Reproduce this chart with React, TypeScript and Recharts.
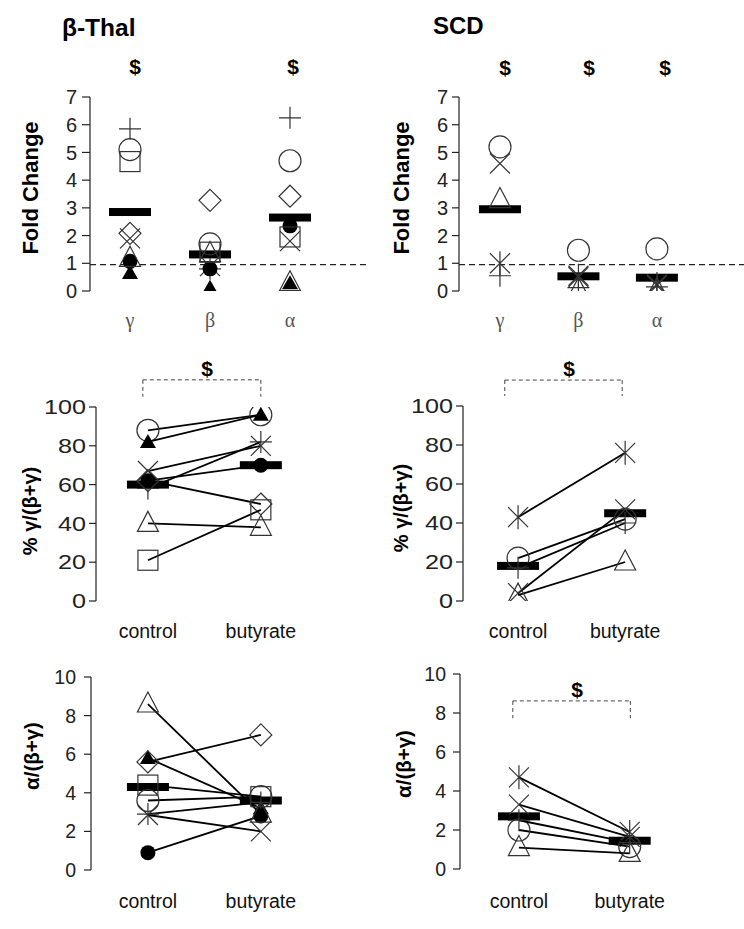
import React from 'react';
import { ScatterChart, Scatter, XAxis, YAxis, ReferenceLine } from 'recharts';

const SANS = "'Liberation Sans', Arial, Helvetica, sans-serif";
const SERIF = "'Liberation Serif', 'Times New Roman', serif";

// ---------- categories & ticks
const FOLD_CATEGORIES = ['γ', 'β', 'α'];
const PAIR_CATEGORIES = ['control', 'butyrate'];
const FOLD_TICKS = [0, 1, 2, 3, 4, 5, 6, 7];
const PCT_TICKS = [0, 20, 40, 60, 80, 100];
const RATIO_TICKS = [0, 2, 4, 6, 8, 10];
const FOLD_BASELINE = 0.95;

// ---------- β-Thal patients (symbol per patient)
const THAL_SYMBOLS = ['circle', 'filledTriangle', 'x', 'plus', 'filledCircle', 'diamond', 'triangle', 'square'];
const THAL_FOLD_GAMMA = [5.1, 0.65, 1.9, 5.85, 1.07, 2.08, 1.18, 4.67];
const THAL_FOLD_BETA = [1.7, 0.12, 0.9, 0.8, 0.8, 3.27, 1.35, 1.4];
const THAL_FOLD_ALPHA = [4.7, 0.28, 1.8, 6.25, 2.35, 3.42, 0.3, 1.95];
const THAL_FOLD_MEAN = [2.85, 1.32, 2.65];
const THAL_PCT_CONTROL = [88, 82, 67, 58, 62, 62, 40, 21];
const THAL_PCT_BUTYRATE = [96, 96, 80, 82, 70, 50, 38, 47];
const THAL_PCT_MEAN = [60, 70];
const THAL_RATIO_CONTROL = [3.6, 5.8, 2.85, 2.9, 0.9, 5.6, 8.6, 4.4];
const THAL_RATIO_BUTYRATE = [3.8, 3.2, 2.0, 3.5, 2.8, 7.0, 2.9, 3.8];
const THAL_RATIO_MEAN = [4.3, 3.6];

// ---------- SCD patients
const SCD_SYMBOLS = ['asterisk', 'x', 'circle', 'triangle', 'plus'];
const SCD_FOLD_GAMMA = [1.0, 4.6, 5.2, 3.3, 0.55];
const SCD_FOLD_BETA = [0.55, 0.5, 1.47, 0.05, 0.12];
const SCD_FOLD_ALPHA = [0.25, 0.2, 1.52, 0.05, 0.15];
const SCD_FOLD_MEAN = [2.95, 0.53, 0.48];
const SCD_PCT_CONTROL = [43, 4, 22, 3, 17];
const SCD_PCT_BUTYRATE = [76, 47, 42, 20, 40];
const SCD_PCT_MEAN = [18, 45];
const SCD_RATIO_CONTROL = [4.7, 3.3, 2.0, 1.1, 2.5];
const SCD_RATIO_BUTYRATE = [1.9, 1.65, 1.15, 0.8, 1.35];
const SCD_RATIO_MEAN = [2.7, 1.45];

// ---------- significance brackets (data coords: x from/to, y top/bottom)
const THAL_PCT_BRACKET = { x1: 0.955, x2: 2.0, yTop: 114, yBottom: 105.3 };
const SCD_PCT_BRACKET = { x1: 0.876, x2: 1.972, yTop: 113.3, yBottom: 105.1 };
const SCD_RATIO_BRACKET = { x1: 0.945, x2: 2.006, yTop: 8.62, yBottom: 7.73 };

type Pt = { x: number; y: number };
type Series = { kind: string; points: Pt[] };

const foldSeries = (symbols: string[], g: number[], b: number[], a: number[]): Series[] =>
  symbols.map((kind, i) => ({ kind, points: [{ x: 1, y: g[i] }, { x: 2, y: b[i] }, { x: 3, y: a[i] }] }));
const pairSeries = (symbols: string[], c: number[], t: number[]): Series[] =>
  symbols.map((kind, i) => ({ kind, points: [{ x: 1, y: c[i] }, { x: 2, y: t[i] }] }));
const meanPoints = (m: number[]): Pt[] => m.map((y, i) => ({ x: i + 1, y }));

const MK = '#333';
function Marker({ kind, cx, cy }: { kind: string; cx?: number; cy?: number }) {
  if (cx == null || cy == null || isNaN(cx) || isNaN(cy)) return <g />;
  const sw = 1.2;
  switch (kind) {
    case 'circle':
      return <circle cx={cx} cy={cy} r={11} fill="none" stroke={MK} strokeWidth={sw} />;
    case 'square':
      return <rect x={cx - 10} y={cy - 10} width={20} height={20} fill="none" stroke={MK} strokeWidth={sw} />;
    case 'diamond':
      return (
        <polygon
          points={`${cx},${cy - 11} ${cx + 11},${cy} ${cx},${cy + 11} ${cx - 11},${cy}`}
          fill="none"
          stroke={MK}
          strokeWidth={sw}
        />
      );
    case 'triangle':
      return (
        <polygon
          points={`${cx},${cy - 12} ${cx + 10.5},${cy + 8} ${cx - 10.5},${cy + 8}`}
          fill="none"
          stroke={MK}
          strokeWidth={sw}
        />
      );
    case 'filledTriangle':
      return <polygon points={`${cx},${cy - 8} ${cx + 8},${cy + 6} ${cx - 8},${cy + 6}`} fill="#000" />;
    case 'filledCircle':
      return <circle cx={cx} cy={cy} r={7.5} fill="#000" />;
    case 'plus':
      return (
        <path d={`M${cx - 11},${cy} H${cx + 11} M${cx},${cy - 11} V${cy + 11}`} stroke={MK} strokeWidth={sw} fill="none" />
      );
    case 'x':
      return (
        <path
          d={`M${cx - 10},${cy - 10} L${cx + 10},${cy + 10} M${cx + 10},${cy - 10} L${cx - 10},${cy + 10}`}
          stroke={MK}
          strokeWidth={sw}
          fill="none"
        />
      );
    case 'asterisk':
      return (
        <path
          d={`M${cx - 10},${cy - 10} L${cx + 10},${cy + 10} M${cx + 10},${cy - 10} L${cx - 10},${cy + 10} M${cx},${cy - 12} V${cy + 12}`}
          stroke={MK}
          strokeWidth={sw}
          fill="none"
        />
      );
    case 'mean':
      return <rect x={cx - 21} y={cy - 4} width={42} height={8} fill="#000" />;
    default:
      return <g />;
  }
}

type PanelProps = {
  left: number;
  top: number;
  width: number;
  height: number;
  margin: { top: number; right: number; bottom: number; left: number };
  yAxisWidth: number;
  xAxisHeight: number;
  xDomain: [number, number];
  yDomain: [number, number];
  yTicks: number[];
  categories: string[];
  greek?: boolean;
  labelY: number;
  tickFont: number;
  digitWidth?: number;
  tickSize: number;
  tickMargin: number;
  series: Series[];
  means: Pt[];
  paired: boolean;
  refY?: number;
  bracket?: { x1: number; x2: number; yTop: number; yBottom: number };
};

function Panel(p: PanelProps) {
  const catTick = (t: any) => (
    <text
      x={t.x}
      y={p.labelY}
      textAnchor="middle"
      fontFamily={p.greek ? SERIF : SANS}
      fontSize={p.greek ? 20 : 19.5}
      fill={p.greek ? '#555' : '#111'}
    >
      {p.categories[Math.round(t.payload.value) - 1]}
    </text>
  );
  const yTick = (t: any) => {
    const s = String(t.payload.value);
    const extra = p.digitWidth ? { textLength: s.length * p.digitWidth, lengthAdjust: 'spacingAndGlyphs' } : {};
    return (
      <text
        x={t.x}
        y={t.y}
        dy="0.355em"
        textAnchor="end"
        fontFamily={SANS}
        fontSize={p.tickFont}
        fill="#222"
        {...(extra as any)}
      >
        {s}
      </text>
    );
  };
  const dash = { stroke: '#444', strokeWidth: 1, strokeDasharray: '4 3' };
  return (
    <div style={{ position: 'absolute', left: p.left, top: p.top }}>
      <ScatterChart width={p.width} height={p.height} margin={p.margin}>
        <XAxis
          type="number"
          dataKey="x"
          domain={p.xDomain}
          ticks={p.categories.map((_, i) => i + 1)}
          interval={0}
          allowDataOverflow
          axisLine={false}
          tickLine={false}
          height={p.xAxisHeight}
          tick={catTick}
        />
        <YAxis
          type="number"
          dataKey="y"
          domain={p.yDomain}
          ticks={p.yTicks}
          interval={0}
          allowDataOverflow
          width={p.yAxisWidth}
          axisLine={{ stroke: '#222', strokeWidth: 1.2 }}
          tickLine={{ stroke: '#222', strokeWidth: 1.2 }}
          tickSize={p.tickSize}
          tickMargin={p.tickMargin}
          tick={yTick}
        />
        {p.refY != null && (
          <ReferenceLine y={p.refY} stroke="#222" strokeWidth={1.2} strokeDasharray="6 4" ifOverflow="visible" />
        )}
        {p.bracket && (
          <ReferenceLine
            segment={[
              { x: p.bracket.x1, y: p.bracket.yTop },
              { x: p.bracket.x2, y: p.bracket.yTop },
            ]}
            ifOverflow="visible"
            {...dash}
          />
        )}
        {p.bracket && (
          <ReferenceLine
            segment={[
              { x: p.bracket.x1, y: p.bracket.yTop },
              { x: p.bracket.x1, y: p.bracket.yBottom },
            ]}
            ifOverflow="visible"
            {...dash}
          />
        )}
        {p.bracket && (
          <ReferenceLine
            segment={[
              { x: p.bracket.x2, y: p.bracket.yTop },
              { x: p.bracket.x2, y: p.bracket.yBottom },
            ]}
            ifOverflow="visible"
            {...dash}
          />
        )}
        <Scatter
          data={p.means}
          dataKey="y"
          isAnimationActive={false}
          shape={(s: any) => <Marker kind="mean" cx={s.cx} cy={s.cy} />}
        />
        {p.series.map((s, i) => (
          <Scatter
            key={i}
            data={s.points}
            dataKey="y"
            isAnimationActive={false}
            line={p.paired ? { stroke: '#000', strokeWidth: 1.8 } : false}
            shape={(q: any) => <Marker kind={s.kind} cx={q.cx} cy={q.cy} />}
          />
        ))}
      </ScatterChart>
    </div>
  );
}

type Txt = { text: string; x: number; y: number; size: number; rotate?: boolean; anchor?: string };
const OVERLAY_TEXT: Txt[] = [
  { text: 'β-Thal', x: 62, y: 36, size: 24.5, anchor: 'start' },
  { text: 'SCD', x: 433, y: 34, size: 24, anchor: 'start' },
  { text: '$', x: 135, y: 74, size: 21 },
  { text: '$', x: 293, y: 74, size: 21 },
  { text: '$', x: 505, y: 75, size: 21 },
  { text: '$', x: 589, y: 75, size: 21 },
  { text: '$', x: 665, y: 75, size: 21 },
  { text: '$', x: 207, y: 376, size: 21 },
  { text: '$', x: 569, y: 376, size: 21 },
  { text: '$', x: 577, y: 697, size: 21 },
  { text: 'Fold Change', x: 30, y: 188, size: 22, rotate: true },
  { text: 'Fold Change', x: 401, y: 188, size: 22, rotate: true },
  { text: '% γ/(β+γ)', x: 30, y: 511, size: 20, rotate: true },
  { text: '% γ/(β+γ)', x: 401, y: 508, size: 20, rotate: true },
  { text: 'α/(β+γ)', x: 31, y: 756, size: 20.5, rotate: true },
  { text: 'α/(β+γ)', x: 403, y: 764, size: 20.5, rotate: true },
];

export default function App() {
  return (
    <div style={{ position: 'absolute', left: 0, top: 0, width: 744, height: 929, background: '#fff', overflow: 'hidden' }}>
      <Panel
        left={0}
        top={0}
        width={372}
        height={340}
        margin={{ top: 97, right: 2, bottom: 0, left: 50 }}
        yAxisWidth={40}
        xAxisHeight={49}
        xDomain={[0.5, 4.0]}
        yDomain={[0, 7]}
        yTicks={FOLD_TICKS}
        categories={FOLD_CATEGORIES}
        greek
        labelY={327}
        tickFont={20}
        tickSize={8}
        tickMargin={5}
        series={foldSeries(THAL_SYMBOLS, THAL_FOLD_GAMMA, THAL_FOLD_BETA, THAL_FOLD_ALPHA)}
        means={meanPoints(THAL_FOLD_MEAN)}
        paired={false}
        refY={FOLD_BASELINE}
      />
      <Panel
        left={372}
        top={0}
        width={372}
        height={340}
        margin={{ top: 97, right: 0, bottom: 0, left: 47 }}
        yAxisWidth={40}
        xAxisHeight={49}
        xDomain={[0.478, 4.11]}
        yDomain={[0, 7]}
        yTicks={FOLD_TICKS}
        categories={FOLD_CATEGORIES}
        greek
        labelY={327}
        tickFont={20}
        tickSize={7}
        tickMargin={4}
        series={foldSeries(SCD_SYMBOLS, SCD_FOLD_GAMMA, SCD_FOLD_BETA, SCD_FOLD_ALPHA)}
        means={meanPoints(SCD_FOLD_MEAN)}
        paired={false}
        refY={FOLD_BASELINE}
      />
      <Panel
        left={0}
        top={330}
        width={372}
        height={320}
        margin={{ top: 77, right: 66, bottom: 0, left: 51 }}
        yAxisWidth={45}
        xAxisHeight={49}
        xDomain={[0.54, 2.4]}
        yDomain={[0, 100]}
        yTicks={PCT_TICKS}
        categories={PAIR_CATEGORIES}
        labelY={308}
        tickFont={20.5}
        digitWidth={14}
        tickSize={7}
        tickMargin={3}
        series={pairSeries(THAL_SYMBOLS, THAL_PCT_CONTROL, THAL_PCT_BUTYRATE)}
        means={meanPoints(THAL_PCT_MEAN)}
        paired
        bracket={THAL_PCT_BRACKET}
      />
      <Panel
        left={372}
        top={330}
        width={372}
        height={320}
        margin={{ top: 76, right: 76, bottom: 0, left: 46 }}
        yAxisWidth={45}
        xAxisHeight={49}
        xDomain={[0.486, 2.4]}
        yDomain={[0, 100]}
        yTicks={PCT_TICKS}
        categories={PAIR_CATEGORIES}
        labelY={308}
        tickFont={20.5}
        digitWidth={14}
        tickSize={7}
        tickMargin={3}
        series={pairSeries(SCD_SYMBOLS, SCD_PCT_CONTROL, SCD_PCT_BUTYRATE)}
        means={meanPoints(SCD_PCT_MEAN)}
        paired
        bracket={SCD_PCT_BRACKET}
      />
      <Panel
        left={0}
        top={640}
        width={372}
        height={289}
        margin={{ top: 37, right: 66, bottom: 0, left: 46 }}
        yAxisWidth={45}
        xAxisHeight={59}
        xDomain={[0.496, 2.4]}
        yDomain={[0, 10]}
        yTicks={RATIO_TICKS}
        categories={PAIR_CATEGORIES}
        labelY={268}
        tickFont={19.5}
        tickSize={7}
        tickMargin={8}
        series={pairSeries(THAL_SYMBOLS, THAL_RATIO_CONTROL, THAL_RATIO_BUTYRATE)}
        means={meanPoints(THAL_RATIO_MEAN)}
        paired
      />
      <Panel
        left={372}
        top={640}
        width={372}
        height={289}
        margin={{ top: 34, right: 70, bottom: 0, left: 43 }}
        yAxisWidth={45}
        xAxisHeight={60}
        xDomain={[0.468, 2.4]}
        yDomain={[0, 10]}
        yTicks={RATIO_TICKS}
        categories={PAIR_CATEGORIES}
        labelY={268}
        tickFont={19.5}
        tickSize={7}
        tickMargin={7}
        series={pairSeries(SCD_SYMBOLS, SCD_RATIO_CONTROL, SCD_RATIO_BUTYRATE)}
        means={meanPoints(SCD_RATIO_MEAN)}
        paired
        bracket={SCD_RATIO_BRACKET}
      />
      <svg width={744} height={929} style={{ position: 'absolute', left: 0, top: 0, pointerEvents: 'none' }}>
        {OVERLAY_TEXT.map((t, i) =>
          t.rotate ? (
            <text
              key={i}
              x={t.x}
              y={t.y}
              transform={`rotate(-90 ${t.x} ${t.y})`}
              textAnchor="middle"
              dominantBaseline="central"
              fontFamily={SANS}
              fontWeight="bold"
              fontSize={t.size}
              fill="#000"
            >
              {t.text}
            </text>
          ) : (
            <text
              key={i}
              x={t.x}
              y={t.y}
              textAnchor={t.anchor || 'middle'}
              fontFamily={SANS}
              fontWeight="bold"
              fontSize={t.size}
              fill="#000"
            >
              {t.text}
            </text>
          )
        )}
      </svg>
    </div>
  );
}
